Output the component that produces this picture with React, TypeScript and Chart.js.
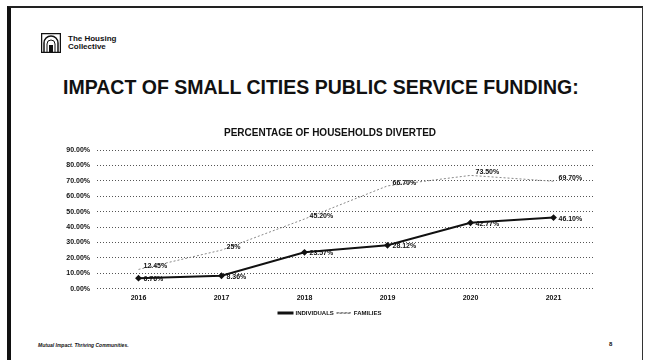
import React, { useEffect, useRef } from "react";
import { Chart, registerables } from "chart.js";

Chart.register(...registerables);

const years = ["2016", "2017", "2018", "2019", "2020", "2021"];
const individuals = [6.76, 8.36, 23.57, 28.12, 42.77, 46.1];
const families = [12.45, 25, 45.2, 66.7, 73.5, 69.7];
const individualLabels = ["6.76%", "8.36%", "23.57%", "28.12%", "42.77%", "46.10%"];
const familyLabels = ["12.45%", "25%", "45.20%", "66.70%", "73.50%", "69.70%"];

const FONT = "'Liberation Sans', Arial, sans-serif";

// Writes each point's percentage just to the right of the marker
const valueLabels = {
  id: "valueLabels",
  afterDatasetsDraw(chart: any) {
    const ctx = chart.ctx;
    ctx.save();
    ctx.font = `bold 7px ${FONT}`;
    ctx.fillStyle = "#111";
    ctx.textBaseline = "middle";
    ctx.textAlign = "left";
    chart.data.datasets.forEach((ds: any, i: number) => {
      const meta = chart.getDatasetMeta(i);
      const labels = ds.valueText as string[];
      meta.data.forEach((pt: any, j: number) => {
        const dy = i === 1 ? -3 : 1;
        ctx.fillText(labels[j], pt.x + 5, pt.y + dy);
      });
    });
    ctx.restore();
  },
};

function HousingChart() {
  const ref = useRef<HTMLCanvasElement>(null);
  useEffect(() => {
    if (!ref.current) return;
    const chart = new Chart(ref.current, {
      type: "line",
      data: {
        labels: years,
        datasets: [
          {
            label: "INDIVIDUALS",
            data: individuals,
            borderColor: "#111",
            backgroundColor: "#111",
            borderWidth: 2,
            pointStyle: "rectRot",
            pointRadius: 2,
            valueText: individualLabels,
          } as any,
          {
            label: "FAMILIES",
            data: families,
            borderColor: "#888",
            backgroundColor: "#888",
            borderWidth: 1,
            borderDash: [2, 2],
            pointRadius: 0,
            valueText: familyLabels,
          } as any,
        ],
      },
      options: {
        animation: false,
        responsive: false,
        layout: { padding: { left: 35, right: 25, top: 4, bottom: 0 } },
        plugins: {
          title: {
            display: true,
            text: "PERCENTAGE OF HOUSEHOLDS DIVERTED",
            color: "#111",
            font: { family: FONT, size: 10, weight: "bold" },
            padding: { top: 3, bottom: 11 },
          },
          legend: {
            position: "bottom",
            labels: {
              color: "#111",
              font: { family: FONT, size: 6, weight: "bold" },
              boxWidth: 14,
              boxHeight: 1,
              padding: 3,
            },
          },
          tooltip: { enabled: false },
        },
        scales: {
          x: {
            offset: true,
            grid: { display: false, drawTicks: false },
            border: { display: false },
            ticks: { color: "#111", font: { family: FONT, size: 7, weight: "bold" }, padding: 5 },
          },
          y: {
            min: 0,
            max: 90,
            afterFit(scale: any) {
              scale.width = 32;
            },
            border: { display: false, dash: [1, 2] },
            grid: { color: "#555", lineWidth: 1, drawTicks: false },
            ticks: {
              stepSize: 10,
              color: "#111",
              padding: 7,
              font: { family: FONT, size: 7, weight: "bold" },
              callback: (v: any) => Number(v).toFixed(2) + "%",
            },
          },
        },
      } as any,
      plugins: [valueLabels],
    });
    return () => chart.destroy();
  }, []);
  return <canvas ref={ref} width={590} height={206} style={{ position: "absolute", left: 30, top: 120 }} />;
}

function Logo() {
  return (
    <div style={{ position: "absolute", left: 41, top: 33, display: "flex", alignItems: "center" }}>
      <svg width="20" height="20" viewBox="0 0 20 20">
        <rect x="0.5" y="0.5" width="19" height="19" fill="none" stroke="#111" strokeWidth="1.5" />
        <path d="M3 19 V10 A7 7 0 0 1 17 10 V19" fill="none" stroke="#111" strokeWidth="1.5" />
        <path d="M6 19 V11 A4 4 0 0 1 14 11 V19" fill="none" stroke="#111" strokeWidth="1" />
        <rect x="8" y="12" width="4" height="7" fill="#111" />
      </svg>
      <div style={{ marginLeft: 7, fontFamily: FONT, fontWeight: 700, fontSize: 8, lineHeight: "8px", color: "#111" }}>
        The Housing
        <br />
        Collective
      </div>
    </div>
  );
}

export default function App() {
  return (
    <div
      style={{
        position: "fixed",
        left: 0,
        top: 0,
        width: 650,
        height: 364,
        background: "#fff",
        overflow: "hidden",
      }}
    >
      <div
        style={{
          position: "absolute",
          left: 7,
          top: 6,
          width: 636,
          height: 354,
          borderLeft: "4px solid #111",
          borderTop: "2px solid #222",
          borderRight: "1px solid #333",
          boxSizing: "border-box",
        }}
      />
      <Logo />
      <div
        style={{
          position: "absolute",
          left: 63,
          top: 76,
          fontFamily: FONT,
          fontWeight: 700,
          fontSize: 19.5,
          color: "#111",
          whiteSpace: "nowrap",
        }}
      >
        IMPACT OF SMALL CITIES PUBLIC SERVICE FUNDING:
      </div>
      <HousingChart />
      <div
        style={{
          position: "absolute",
          left: 38,
          top: 342,
          fontFamily: FONT,
          fontWeight: 700,
          fontStyle: "italic",
          fontSize: 5,
          color: "#111",
          whiteSpace: "nowrap",
        }}
      >
        Mutual Impact. Thriving Communities.
      </div>
      <div
        style={{ position: "absolute", left: 609, top: 341, fontFamily: FONT, fontWeight: 700, fontSize: 6, color: "#111" }}
      >
        8
      </div>
    </div>
  );
}
